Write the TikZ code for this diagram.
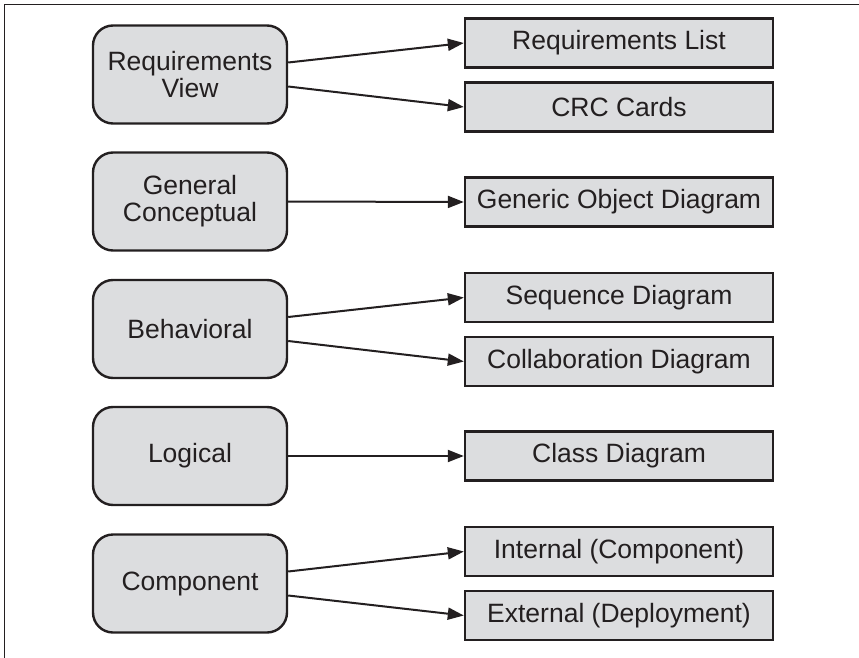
\documentclass[tikz,border=0pt]{standalone}
\usepackage{fontspec}
\setmainfont{Liberation Sans}
\usetikzlibrary{arrows.meta}
\definecolor{boxfill}{RGB}{220,221,223}
\definecolor{ink}{RGB}{35,31,32}
\begin{document}
\begin{tikzpicture}[x=1pt,y=-1pt,
  viewbox/.style={draw=ink,line width=2.4pt,fill=boxfill,rounded corners=20pt,
    minimum width=194pt,minimum height=98pt,inner sep=0pt,align=center,
    font=\fontsize{26.5}{27}\selectfont,text=ink},
  outbox/.style={draw=ink,line width=2.4pt,fill=boxfill,
    minimum width=308pt,minimum height=49pt,inner sep=0pt,align=center,
    font=\fontsize{26.5}{27}\selectfont,text=ink},
  conn/.style={draw=ink,line width=2pt,-{Triangle[length=16pt,width=12pt]}}]
\useasboundingbox (0,0) rectangle (859,658);
\draw[ink,line width=1.8pt] (859,4.5) -- (4.5,4.5) -- (4.5,658);

\node[viewbox] (rv) at (190,74.5) {Requirements\\View};
\node[viewbox] (gc) at (190,201.5) {General\\Conceptual};
\node[viewbox] (bh) at (190,329) {Behavioral};
\node[viewbox] (lg) at (190,456) {Logical};
\node[viewbox] (cp) at (190,583.5) {Component};

\node[outbox] (rl) at (619,43) {Requirements List};
\node[outbox] (crc) at (619,107) {CRC Cards};
\node[outbox] (god) at (619,202) {Generic Object Diagram};
\node[outbox] (sd) at (619,297.5) {Sequence Diagram};
\node[outbox] (cd) at (619,361.5) {Collaboration Diagram};
\node[outbox] (cls) at (619,456) {Class Diagram};
\node[outbox] (ic) at (619,551.5) {Internal (Component)};
\node[outbox] (ed) at (619,615.5) {External (Deployment)};

\draw[conn] ([yshift=12pt]rv.east) -- (rl.west);
\draw[conn] ([yshift=-12pt]rv.east) -- (crc.west);
\draw[conn] (gc.east) -- (god.west);
\draw[conn] ([yshift=12pt]bh.east) -- (sd.west);
\draw[conn] ([yshift=-12pt]bh.east) -- (cd.west);
\draw[conn] (lg.east) -- (cls.west);
\draw[conn] ([yshift=12pt]cp.east) -- (ic.west);
\draw[conn] ([yshift=-12pt]cp.east) -- (ed.west);
\end{tikzpicture}
\end{document}
